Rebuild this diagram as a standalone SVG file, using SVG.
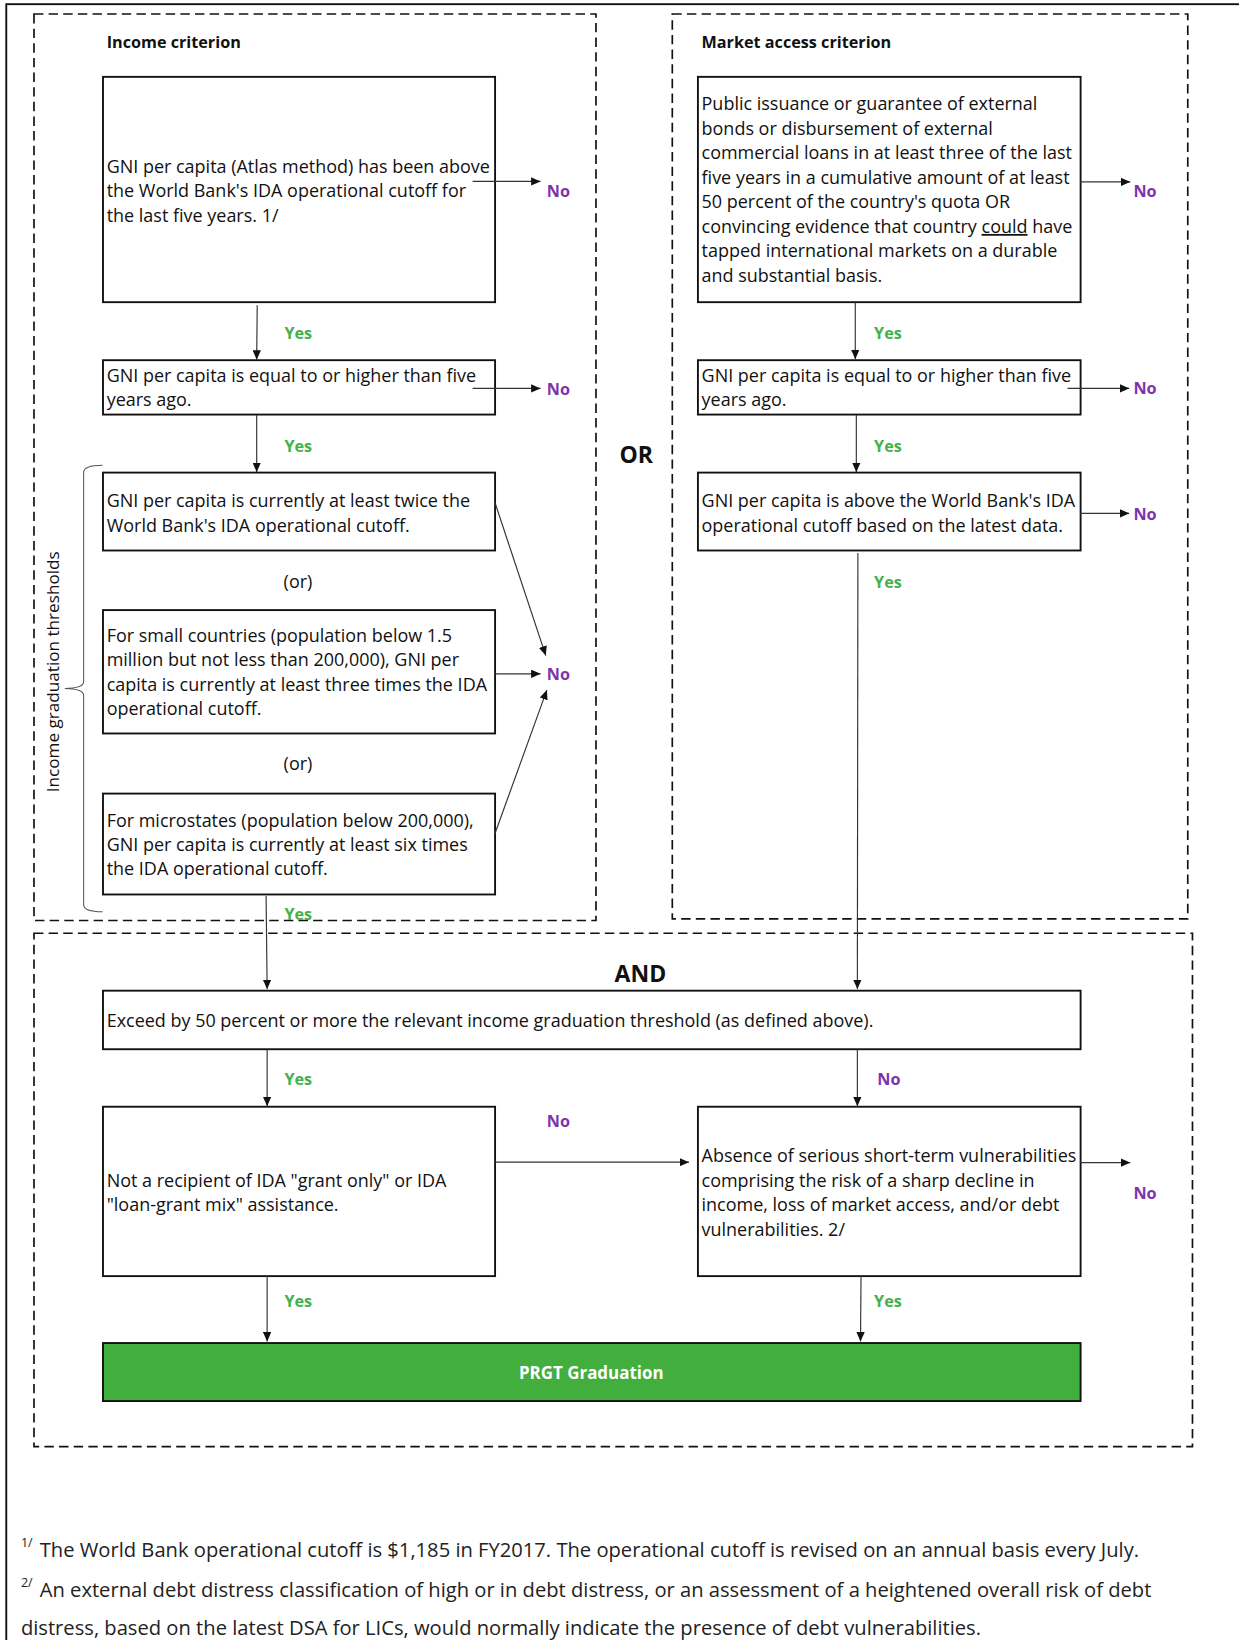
<svg xmlns="http://www.w3.org/2000/svg" width="1239" height="1640" viewBox="0 0 1239 1640">
<defs>
<style>
.t{font-family:"Open Sans","Noto Sans","DejaVu Sans",sans-serif;font-size:17.2px;fill:#111}
.rot{font-family:"Open Sans","Noto Sans","DejaVu Sans",sans-serif;font-size:16.4px;fill:#111}
.h{font-family:"Open Sans","Noto Sans","DejaVu Sans",sans-serif;font-weight:700;font-size:15.5px;fill:#111}
.big{font-family:"Open Sans","Noto Sans","DejaVu Sans",sans-serif;font-weight:700;font-size:22px;fill:#111}
.y{font-family:"Open Sans","Noto Sans","DejaVu Sans",sans-serif;font-weight:700;font-size:15.5px;fill:#44b24c}
.n{font-family:"Open Sans","Noto Sans","DejaVu Sans",sans-serif;font-weight:700;font-size:15.5px;fill:#7e33ad}
.fn{font-family:"Open Sans","Noto Sans","DejaVu Sans",sans-serif;font-size:19.3px;fill:#222}
.sup{font-family:"Open Sans","Noto Sans","DejaVu Sans",sans-serif;font-size:12px;fill:#222}
.box{fill:#fff;stroke:#111;stroke-width:1.8}
.dash{fill:none;stroke:#111;stroke-width:1.6;stroke-dasharray:9 5}
.c{stroke:#333;stroke-width:1.1;fill:none;marker-end:url(#ah)}
</style>
<marker id="ah" viewBox="0 0 9 8" refX="9" refY="4" markerWidth="9" markerHeight="8" markerUnits="userSpaceOnUse" orient="auto">
<path d="M0,0 L9,4 L0,8 z" fill="#111"/>
</marker>
</defs>
<rect x="0" y="0" width="1239" height="1640" fill="#fff"/>
<g transform="scale(1.04557)">
<rect x="6" y="4" width="1300" height="1700" fill="none" stroke="#111" stroke-width="1.8"/>

<g id="regions">
<rect id="income-region" class="dash" x="32.5" y="13.4" width="537.5" height="867"/>
<rect id="market-region" class="dash" x="643" y="13.4" width="493" height="865.5"/>
<rect id="and-region" class="dash" x="32.5" y="892.6" width="1108" height="491"/>
<text class="h" x="102" y="46">Income criterion</text>
<text class="h" x="671" y="46">Market access criterion</text>
<text class="big" x="608.5" y="443" text-anchor="middle">OR</text>
<text class="big" x="612.5" y="939" text-anchor="middle">AND</text>
</g>

<g id="income-thresholds-brace">
<path d="M98,445 Q80,445 80,452 L80,652 Q80,658 62,658.5 Q80,659 80,665 L80,865 Q80,872 98,872" fill="none" stroke="#555" stroke-width="1"/>
<text class="rot" transform="translate(56,642.5) rotate(-90)" text-anchor="middle">Income  graduation thresholds</text>
</g>

<g id="income-atlas">
<rect class="box" x="98.5" y="73.5" width="375" height="215.5"/>
<text class="t" x="102" y="165">GNI per capita (Atlas method) has been above</text>
<text class="t" x="102" y="188.6">the World Bank's IDA operational cutoff for</text>
<text class="t" x="102" y="212">the last five years. 1/</text>
</g>

<g id="income-five-years">
<rect class="box" x="98.5" y="344.5" width="375" height="52"/>
<text class="t" x="102" y="365">GNI per capita is equal to or higher than five</text>
<text class="t" x="102" y="388.5">years ago.</text>
</g>

<g id="income-twice">
<rect class="box" x="98.5" y="452" width="375" height="74.5"/>
<text class="t" x="102" y="484.6">GNI per capita is currently at least twice the</text>
<text class="t" x="102" y="508.5">World Bank's IDA operational cutoff.</text>
</g>

<text class="t" x="285" y="562.7" text-anchor="middle">(or)</text>

<g id="income-small-countries">
<rect class="box" x="98.5" y="583.5" width="375" height="118"/>
<text class="t" x="102" y="613.7">For small countries (population below 1.5</text>
<text class="t" x="102" y="637.2">million but not less than 200,000), GNI per</text>
<text class="t" x="102" y="660.6">capita is currently at least three times the IDA</text>
<text class="t" x="102" y="684">operational cutoff.</text>
</g>

<text class="t" x="285" y="736.4" text-anchor="middle">(or)</text>

<g id="income-microstates">
<rect class="box" x="98.5" y="759" width="375" height="96.5"/>
<text class="t" x="102" y="790.6">For microstates (population below 200,000),</text>
<text class="t" x="102" y="813.8">GNI per capita is currently at least six times</text>
<text class="t" x="102" y="837">the IDA operational cutoff.</text>
</g>

<g id="market-issuance">
<rect class="box" x="667.5" y="73.5" width="366" height="215.5"/>
<text class="t" x="671" y="105.5">Public issuance or guarantee of external</text>
<text class="t" x="671" y="128.8">bonds or disbursement of external</text>
<text class="t" x="671" y="152.2">commercial loans in at least three of the last</text>
<text class="t" x="671" y="175.6">five years in a cumulative amount of at least</text>
<text class="t" x="671" y="199.2">50 percent of the country's quota OR</text>
<text class="t" x="671" y="222.8">convincing evidence that country <tspan style="text-decoration:underline">could</tspan> have</text>
<text class="t" x="671" y="246.2">tapped international markets on a durable</text>
<text class="t" x="671" y="269.6">and substantial basis.</text>
</g>

<g id="market-five-years">
<rect class="box" x="667.5" y="344.5" width="366" height="52"/>
<text class="t" x="671" y="365">GNI per capita is equal to or higher than five</text>
<text class="t" x="671" y="388.5">years ago.</text>
</g>

<g id="market-above-cutoff">
<rect class="box" x="667.5" y="452" width="366" height="74.5"/>
<text class="t" x="671" y="484.6">GNI per capita is above the World Bank's IDA</text>
<text class="t" x="671" y="508.5">operational cutoff based on the latest data.</text>
</g>

<g id="exceed-threshold">
<rect class="box" x="98.5" y="947.5" width="935" height="56"/>
<text class="t" x="102" y="982">Exceed by 50 percent or more the relevant income graduation threshold (as defined above).</text>
</g>

<g id="not-recipient">
<rect class="box" x="98.5" y="1058.5" width="375" height="162"/>
<text class="t" x="102" y="1135">Not a recipient of IDA "grant only" or IDA</text>
<text class="t" x="102" y="1158.3">"loan-grant mix" assistance.</text>
</g>

<g id="absence-vulnerabilities">
<rect class="box" x="667.5" y="1058.5" width="366" height="162"/>
<text class="t" x="671" y="1111.2">Absence of serious short-term vulnerabilities</text>
<text class="t" x="671" y="1135">comprising the risk of a sharp decline in</text>
<text class="t" x="671" y="1158.3">income, loss of market access, and/or debt</text>
<text class="t" x="671" y="1181.7">vulnerabilities. 2/</text>
</g>

<g id="prgt-graduation">
<rect x="98.5" y="1284.5" width="935" height="55.5" fill="#42ae3d" stroke="#111" stroke-width="1.8"/>
<text class="h" x="565.5" y="1318.5" text-anchor="middle" style="fill:#fff;font-size:16.2px">PRGT Graduation</text>
</g>

<g id="connectors">
<line class="c" x1="452" y1="173.5" x2="517" y2="173.5"/>
<line class="c" x1="246" y1="292" x2="245.5" y2="344"/>
<line class="c" x1="452" y1="371.5" x2="517" y2="371.5"/>
<line class="c" x1="245.5" y1="397" x2="245.5" y2="451.5"/>
<line class="c" x1="473.5" y1="481" x2="522" y2="627"/>
<line class="c" x1="473.5" y1="644.5" x2="517" y2="644.5"/>
<line class="c" x1="473.5" y1="797" x2="523" y2="660"/>
<line class="c" x1="254.5" y1="857" x2="255.5" y2="946"/>
<line class="c" x1="1033" y1="174" x2="1081" y2="174"/>
<line class="c" x1="818" y1="289" x2="818" y2="343.5"/>
<line class="c" x1="1021" y1="371.5" x2="1080" y2="371.5"/>
<line class="c" x1="819" y1="397" x2="819" y2="451.5"/>
<line class="c" x1="1033" y1="491" x2="1080" y2="491"/>
<line class="c" x1="820.5" y1="529" x2="820" y2="946"/>
<line class="c" x1="255.5" y1="1003.5" x2="255.5" y2="1058"/>
<line class="c" x1="820" y1="1003.5" x2="820" y2="1058"/>
<line class="c" x1="473.5" y1="1111.5" x2="659" y2="1111.5"/>
<line class="c" x1="1033" y1="1112" x2="1081" y2="1112"/>
<line class="c" x1="255.5" y1="1220.5" x2="255.5" y2="1283"/>
<line class="c" x1="823.5" y1="1220.5" x2="823" y2="1283"/>
<text class="n" x="523" y="188.5">No</text>
<text class="y" x="272" y="324">Yes</text>
<text class="n" x="523" y="377.5">No</text>
<text class="y" x="272" y="432">Yes</text>
<text class="n" x="523" y="650">No</text>
<text class="y" x="272" y="879.5">Yes</text>
<text class="n" x="1084" y="188">No</text>
<text class="y" x="836" y="324">Yes</text>
<text class="n" x="1084" y="377">No</text>
<text class="y" x="836" y="432">Yes</text>
<text class="n" x="1084" y="497">No</text>
<text class="y" x="836" y="562.5">Yes</text>
<text class="y" x="272" y="1037.7">Yes</text>
<text class="n" x="839" y="1037.7">No</text>
<text class="n" x="523" y="1077.5">No</text>
<text class="n" x="1084" y="1147">No</text>
<text class="y" x="272" y="1249.6">Yes</text>
<text class="y" x="836" y="1249.6">Yes</text>
</g>

<g id="footnotes">
<text class="sup" x="20" y="1480">1/</text>
<text class="fn" x="38" y="1488.7">The World Bank operational cutoff is $1,185 in FY2017. The operational cutoff is revised on an annual basis every July.</text>
<text class="sup" x="20" y="1518">2/</text>
<text class="fn" x="38" y="1527">An external debt distress classification of high or in debt distress, or an assessment of a heightened overall risk of debt</text>
<text class="fn" x="20" y="1564">distress, based on the latest DSA for LICs, would normally indicate the presence of debt vulnerabilities.</text>
</g>
</g>
</svg>
